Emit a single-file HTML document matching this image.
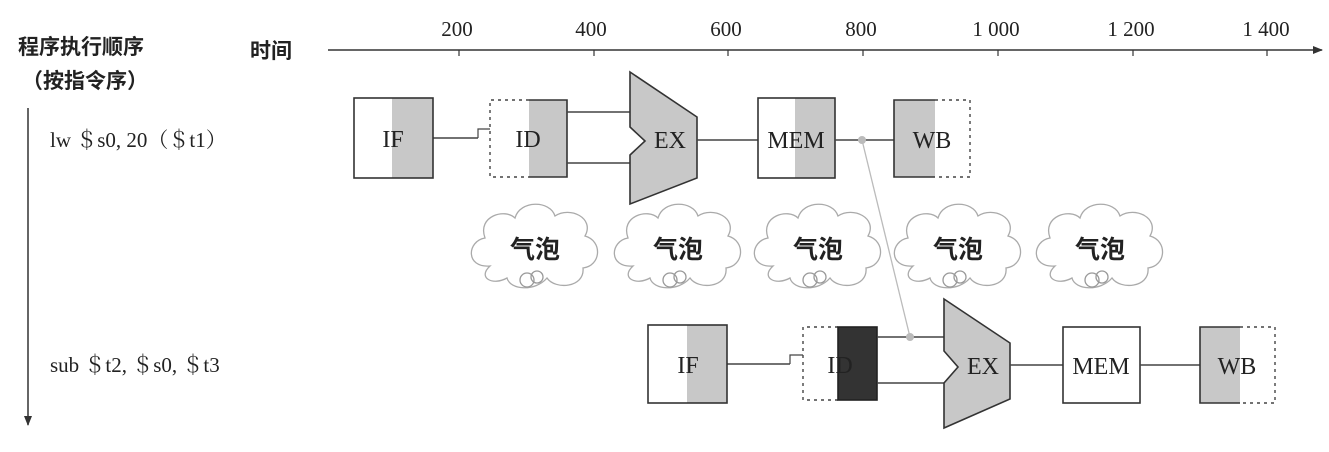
<!DOCTYPE html>
<html><head><meta charset="utf-8"><style>
html,body{margin:0;padding:0;background:#fff}
svg{display:block}
text{font-family:"Liberation Serif","Noto Serif CJK SC",serif;fill:#222}
.cj{font-family:"Liberation Serif","Noto Sans CJK SC",sans-serif}
</style></head><body>
<svg width="1329" height="452" viewBox="0 0 1329 452" xmlns="http://www.w3.org/2000/svg">
<defs>
<marker id="ah" markerWidth="10" markerHeight="8" refX="9" refY="4" orient="auto" markerUnits="userSpaceOnUse"><path d="M0,0 L10,4 L0,8 Z" fill="#333"/></marker>
<g id="cloud">
<path d="M-45,20 C-70,22 -68,-5 -50,-8 C-58,-30 -30,-38 -20,-28 C-15,-46 15,-46 20,-30 C35,-40 60,-28 50,-10 C68,-5 66,20 48,22 C50,42 20,44 12,32 C0,46 -25,44 -28,32 C-42,40 -58,32 -45,20 Z" fill="#fff" stroke="#aaa" stroke-width="1.3"/>
<circle cx="-8" cy="34" r="7" fill="none" stroke="#999" stroke-width="1.3"/>
<circle cx="2" cy="31" r="6" fill="none" stroke="#999" stroke-width="1.3"/>
<text x="0" y="12" text-anchor="middle" class="cj" font-size="25" font-weight="bold" fill="#333">气泡</text>
</g>
</defs>

<line x1="328" y1="50" x2="1322" y2="50" stroke="#333" stroke-width="1.5" marker-end="url(#ah)"/>
<g stroke="#333" stroke-width="1.2">
<line x1="459" y1="50" x2="459" y2="56"/><line x1="594" y1="50" x2="594" y2="56"/><line x1="728" y1="50" x2="728" y2="56"/><line x1="863" y1="50" x2="863" y2="56"/><line x1="998" y1="50" x2="998" y2="56"/><line x1="1133" y1="50" x2="1133" y2="56"/><line x1="1267" y1="50" x2="1267" y2="56"/>
</g>
<g font-size="21" text-anchor="middle">
<text x="457" y="36">200</text><text x="591" y="36">400</text><text x="726" y="36">600</text><text x="861" y="36">800</text><text x="996" y="36">1 000</text><text x="1131" y="36">1 200</text><text x="1266" y="36">1 400</text>
</g>
<text x="18" y="54" class="cj" font-size="21" font-weight="bold">程序执行顺序</text>
<text x="22" y="88" class="cj" font-size="21" font-weight="bold">（按指令序）</text>
<text x="250" y="58" class="cj" font-size="21" font-weight="bold">时间</text>
<line x1="28" y1="108" x2="28" y2="425" stroke="#333" stroke-width="1.5" marker-end="url(#ah)"/>
<text x="50" y="147" font-size="21">lw ＄s0, 20（＄t1）</text>
<text x="50" y="372" font-size="21">sub ＄t2, ＄s0, ＄t3</text>

<line x1="433" y1="138" x2="478" y2="138" stroke="#444" stroke-width="1.5"/>
<path d="M478,138 V129 H490" fill="none" stroke="#444" stroke-width="1.2"/>
<rect x="392" y="98" width="41" height="80" fill="#c8c8c8"/>
<rect x="354" y="98" width="79" height="80" fill="none" stroke="#333" stroke-width="1.6"/>
<text x="393" y="147" font-size="24" text-anchor="middle">IF</text>
<rect x="529" y="100" width="38" height="77" fill="#c8c8c8"/>
<path d="M529,100 H567 V177 H529" fill="none" stroke="#333" stroke-width="1.6"/>
<path d="M529,100 H490 V177 H529" fill="none" stroke="#444" stroke-width="1.4" stroke-dasharray="3,4"/>
<text x="528" y="147" font-size="24" text-anchor="middle">ID</text>
<line x1="567" y1="112" x2="630" y2="112" stroke="#444" stroke-width="1.5"/>
<line x1="567" y1="163" x2="630" y2="163" stroke="#444" stroke-width="1.5"/>
<path d="M630,72 L697,117 V178 L630,204 V155 L645,141 L630,127 Z" fill="#c8c8c8" stroke="#333" stroke-width="1.6"/>
<text x="670" y="148" font-size="24" text-anchor="middle">EX</text>
<line x1="697" y1="140" x2="758" y2="140" stroke="#444" stroke-width="1.5"/>
<rect x="795" y="98" width="40" height="80" fill="#c8c8c8"/>
<rect x="758" y="98" width="77" height="80" fill="none" stroke="#333" stroke-width="1.6"/>
<text x="796" y="148" font-size="24" text-anchor="middle">MEM</text>
<line x1="835" y1="140" x2="894" y2="140" stroke="#444" stroke-width="1.5"/>
<rect x="894" y="100" width="41" height="77" fill="#c8c8c8"/>
<path d="M935,100 H894 V177 H935" fill="none" stroke="#333" stroke-width="1.6"/>
<path d="M935,100 H970 V177 H935" fill="none" stroke="#444" stroke-width="1.4" stroke-dasharray="3,4"/>
<text x="932" y="148" font-size="24" text-anchor="middle">WB</text>

<line x1="862" y1="140" x2="910" y2="337" stroke="#bbb" stroke-width="1.3"/>
<circle cx="862" cy="140" r="4" fill="#bbb"/>

<use href="#cloud" x="535" y="246"/>
<use href="#cloud" x="678" y="246"/>
<use href="#cloud" x="818" y="246"/>
<use href="#cloud" x="958" y="246"/>
<use href="#cloud" x="1100" y="246"/>

<line x1="727" y1="364" x2="790" y2="364" stroke="#444" stroke-width="1.5"/>
<path d="M790,364 V355 H803" fill="none" stroke="#444" stroke-width="1.2"/>
<rect x="687" y="325" width="40" height="78" fill="#c8c8c8"/>
<rect x="648" y="325" width="79" height="78" fill="none" stroke="#333" stroke-width="1.6"/>
<text x="688" y="373" font-size="24" text-anchor="middle">IF</text>
<path d="M838,327 H803 V400 H838" fill="none" stroke="#444" stroke-width="1.4" stroke-dasharray="3,4"/>
<rect x="838" y="327" width="39" height="73" fill="#333" stroke="#222" stroke-width="1.6"/>
<text x="840" y="373" font-size="24" text-anchor="middle">ID</text>
<line x1="877" y1="337" x2="944" y2="337" stroke="#444" stroke-width="1.5"/>
<line x1="877" y1="383" x2="944" y2="383" stroke="#444" stroke-width="1.5"/>
<circle cx="910" cy="337" r="4" fill="#bbb"/>
<path d="M944,299 L1010,343 V399 L944,428 V383 L958,367 L944,351 Z" fill="#c8c8c8" stroke="#333" stroke-width="1.6"/>
<text x="983" y="374" font-size="24" text-anchor="middle">EX</text>
<line x1="1010" y1="365" x2="1063" y2="365" stroke="#444" stroke-width="1.5"/>
<rect x="1063" y="327" width="77" height="76" fill="#fff" stroke="#333" stroke-width="1.6"/>
<text x="1101" y="374" font-size="24" text-anchor="middle">MEM</text>
<line x1="1140" y1="365" x2="1200" y2="365" stroke="#444" stroke-width="1.5"/>
<rect x="1200" y="327" width="40" height="76" fill="#c8c8c8"/>
<path d="M1240,327 H1200 V403 H1240" fill="none" stroke="#333" stroke-width="1.6"/>
<path d="M1240,327 H1275 V403 H1240" fill="none" stroke="#444" stroke-width="1.4" stroke-dasharray="3,4"/>
<text x="1237" y="374" font-size="24" text-anchor="middle">WB</text>
</svg>
</body></html>
